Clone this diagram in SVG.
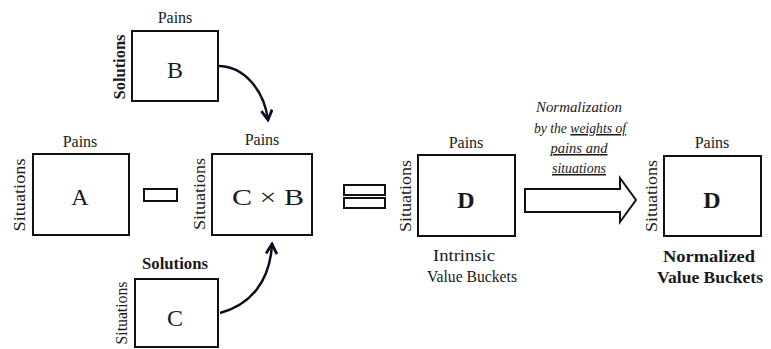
<svg xmlns="http://www.w3.org/2000/svg" width="771" height="349" viewBox="0 0 771 349">
<defs>
<style>
.box{fill:#fff;stroke:#111;stroke-width:2}
.lbl{font-size:16px;text-anchor:middle;fill:#1a1a1a}
.big{font-size:24px;text-anchor:middle;fill:#1a1a1a}
.bold{font-weight:bold}
.note{font-size:15px;font-style:italic;text-anchor:middle;fill:#1a1a1a}
.u{text-decoration:underline}
.conn{fill:none;stroke:#0b1020;stroke-width:2.5}
</style>
<marker id="ah" viewBox="0 0 12 12" refX="10" refY="6" markerWidth="13" markerHeight="13" markerUnits="userSpaceOnUse" orient="auto">
<path d="M1,1 L10,6 L1,11" fill="none" stroke="#0b1020" stroke-width="2.6"/>
</marker>
</defs>
<rect width="771" height="349" fill="#fff"/>
<g font-family="Liberation Serif, serif">
<g id="nodeB">
<rect class="box" x="132" y="31" width="86" height="70"/>
<text class="lbl" x="175" y="23">Pains</text>
<text class="lbl bold" transform="translate(125,67) rotate(-90)" textLength="65" lengthAdjust="spacingAndGlyphs">Solutions</text>
<text class="big" x="175" y="78">B</text>
</g>

<g id="nodeA">
<rect class="box" x="33" y="154" width="96" height="81"/>
<text class="lbl" x="80" y="147">Pains</text>
<text class="lbl" transform="translate(25,195) rotate(-90)" textLength="73" lengthAdjust="spacingAndGlyphs">Situations</text>
<text class="big" x="80" y="205">A</text>
</g>

<g id="minus">
<rect class="box" x="144" y="189" width="33" height="12"/>
</g>

<g id="nodeCxB">
<rect class="box" x="212" y="154" width="100" height="81"/>
<text class="lbl" x="262" y="145">Pains</text>
<text class="lbl" transform="translate(205,194) rotate(-90)" textLength="72" lengthAdjust="spacingAndGlyphs">Situations</text>
<text class="big" x="268" y="205" textLength="72" lengthAdjust="spacingAndGlyphs">C × B</text>
</g>

<g id="equals">
<rect class="box" x="344" y="185" width="41" height="10"/>
<rect class="box" x="344" y="198" width="41" height="10"/>
</g>

<g id="nodeC">
<rect class="box" x="135" y="279" width="83" height="68"/>
<text class="lbl bold" x="175" y="269" textLength="66" lengthAdjust="spacingAndGlyphs">Solutions</text>
<text class="lbl" transform="translate(127,313) rotate(-90)" font-size="15" textLength="63" lengthAdjust="spacingAndGlyphs">Situations</text>
<text class="big" x="175" y="326">C</text>
</g>

<g id="nodeD">
<rect class="box" x="418" y="155" width="97" height="81"/>
<text class="lbl" x="466" y="148">Pains</text>
<text class="lbl" transform="translate(411,196) rotate(-90)" textLength="72" lengthAdjust="spacingAndGlyphs">Situations</text>
<text class="big bold" x="466" y="208">D</text>
<text class="lbl" x="464" y="261" textLength="62" lengthAdjust="spacingAndGlyphs">Intrinsic</text>
<text class="lbl" x="472" y="282" textLength="90" lengthAdjust="spacingAndGlyphs">Value Buckets</text>
</g>

<g id="nodeDnorm">
<rect class="box" x="664" y="156" width="97" height="80"/>
<text class="lbl" x="712" y="148">Pains</text>
<text class="lbl" transform="translate(657,196) rotate(-90)" textLength="72" lengthAdjust="spacingAndGlyphs">Situations</text>
<text class="big bold" x="712" y="208">D</text>
<text class="lbl bold" x="709" y="262" textLength="92" lengthAdjust="spacingAndGlyphs">Normalized</text>
<text class="lbl bold" x="710" y="283" textLength="106" lengthAdjust="spacingAndGlyphs">Value Buckets</text>
</g>

<g id="connectors">
<path class="conn" d="M218,66 C244,66 264,90 268,120" marker-end="url(#ah)"/>
<path class="conn" d="M220,313 C250,305 270,282 272,244" marker-end="url(#ah)"/>
<polygon points="525,189 620,189 620,178 636,200 620,222 620,212 525,212" fill="#fff" stroke="#111" stroke-width="2" stroke-linejoin="miter"/>
<text class="note" x="579" y="112" textLength="86" lengthAdjust="spacingAndGlyphs">Normalization</text>
<text class="note" x="580" y="133" textLength="92" lengthAdjust="spacingAndGlyphs">by the <tspan class="u">weights of</tspan></text>
<text class="note u" x="579" y="153" textLength="57" lengthAdjust="spacingAndGlyphs">pains and</text>
<text class="note u" x="579" y="173" textLength="54" lengthAdjust="spacingAndGlyphs">situations</text>
</g>
</g>
</svg>
